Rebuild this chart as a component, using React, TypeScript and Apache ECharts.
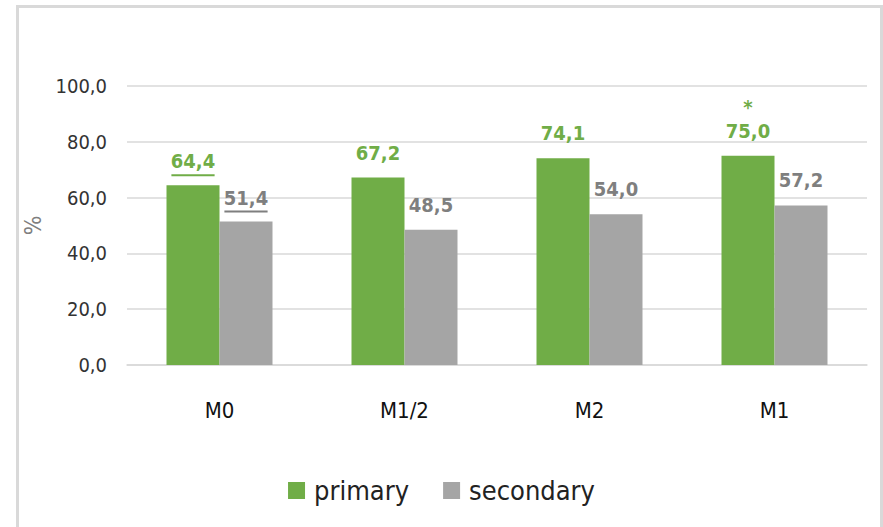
import React, { useEffect, useRef } from "react";
import * as echarts from "echarts";

const categories = ["M0", "M1/2", "M2", "M1"];
const primaryValues = [64.4, 67.2, 74.1, 75.0];
const secondaryValues = [51.4, 48.5, 54.0, 57.2];
const primaryUnderline = [true, false, false, false];
const secondaryUnderline = [true, false, false, false];
const primaryMarks = ["", "", "", "*"];
const secondaryMarks = ["", "", "", ""];
const yTicks = [0, 20, 40, 60, 80, 100];

const GREEN = "#70AD47";
const GRAY = "#A5A5A5";
const GREEN_TXT = "#70AD47";
const GRAY_TXT = "#7F7F7F";
const FONT = "'Liberation Sans Narrow', 'DejaVu Sans Condensed', Roboto, 'Liberation Sans', sans-serif";

const fmt = (v: number) => v.toFixed(1).replace(".", ",");

function makeData(values: number[], underline: boolean[], marks: string[], color: string) {
  return values.map((v, i) => {
    const text = fmt(v);
    const lines: string[] = [];
    if (marks[i]) lines.push(`{m|${marks[i]}}`);
    lines.push(`{v|${text}}`);
    if (underline[i]) lines.push(`{u|}`);
    return {
      value: v,
      label: {
        distance: underline[i] ? 8 : 13,
        formatter: lines.join("\n"),
        rich: {
          v: { fontFamily: FONT, fontSize: 20, fontWeight: "bold", color, lineHeight: 24 },
          m: { fontFamily: FONT, fontSize: 20, fontWeight: "bold", color, lineHeight: 22, verticalAlign: "top" },
          u: { width: text.length * 10.8, height: 2, lineHeight: 4, backgroundColor: color },
        },
      },
    };
  });
}

export default function App() {
  const ref = useRef<HTMLDivElement>(null);
  useEffect(() => {
    if (!ref.current) return;
    const chart = echarts.init(ref.current, undefined, { renderer: "svg" });
    chart.setOption({
      animation: false,
      backgroundColor: "#ffffff",
      graphic: [
        {
          type: "rect",
          shape: { x: 17.5, y: 6.5, width: 864, height: 600 },
          style: { fill: "none", stroke: "#D9D9D9", lineWidth: 3 },
          silent: true,
        },
      ],
      grid: { left: 127, right: 16, top: 86, bottom: 162, containLabel: false },
      legend: {
        bottom: 18,
        left: "center",
        itemWidth: 17,
        itemHeight: 17,
        itemGap: 34,
        icon: "rect",
        textStyle: { fontFamily: FONT, fontSize: 27, color: "#222222", padding: [0, 0, 0, 4] },
        data: ["primary", "secondary"],
      },
      xAxis: {
        type: "category",
        data: categories,
        axisLine: { lineStyle: { color: "#D9D9D9", width: 1.5 } },
        axisTick: { show: false },
        axisLabel: { fontFamily: FONT, fontSize: 22, color: "#111111", margin: 34 },
      },
      yAxis: {
        type: "value",
        min: yTicks[0],
        max: yTicks[yTicks.length - 1],
        interval: 20,
        name: "%",
        nameLocation: "middle",
        nameRotate: 90,
        nameGap: 70,
        nameTextStyle: { fontFamily: FONT, fontSize: 23, color: "#7F7F7F" },
        axisLine: { show: false },
        axisTick: { show: false },
        splitLine: { lineStyle: { color: "#D9D9D9", width: 1.5 } },
        axisLabel: {
          fontFamily: FONT,
          fontSize: 20,
          color: "#333333",
          margin: 20,
          formatter: (v: number) => fmt(v),
        },
      },
      series: [
        {
          name: "primary",
          type: "bar",
          barWidth: 53,
          barGap: "0%",
          itemStyle: { color: GREEN },
          label: { show: true, position: "top" },
          data: makeData(primaryValues, primaryUnderline, primaryMarks, GREEN_TXT),
        },
        {
          name: "secondary",
          type: "bar",
          barWidth: 53,
          barGap: "0%",
          itemStyle: { color: GRAY },
          label: { show: true, position: "top" },
          data: makeData(secondaryValues, secondaryUnderline, secondaryMarks, GRAY_TXT),
        },
      ],
    });
    return () => chart.dispose();
  }, []);
  return (
    <div
      ref={ref}
      style={{ position: "absolute", left: 0, top: 0, width: 883, height: 527 }}
    />
  );
}
